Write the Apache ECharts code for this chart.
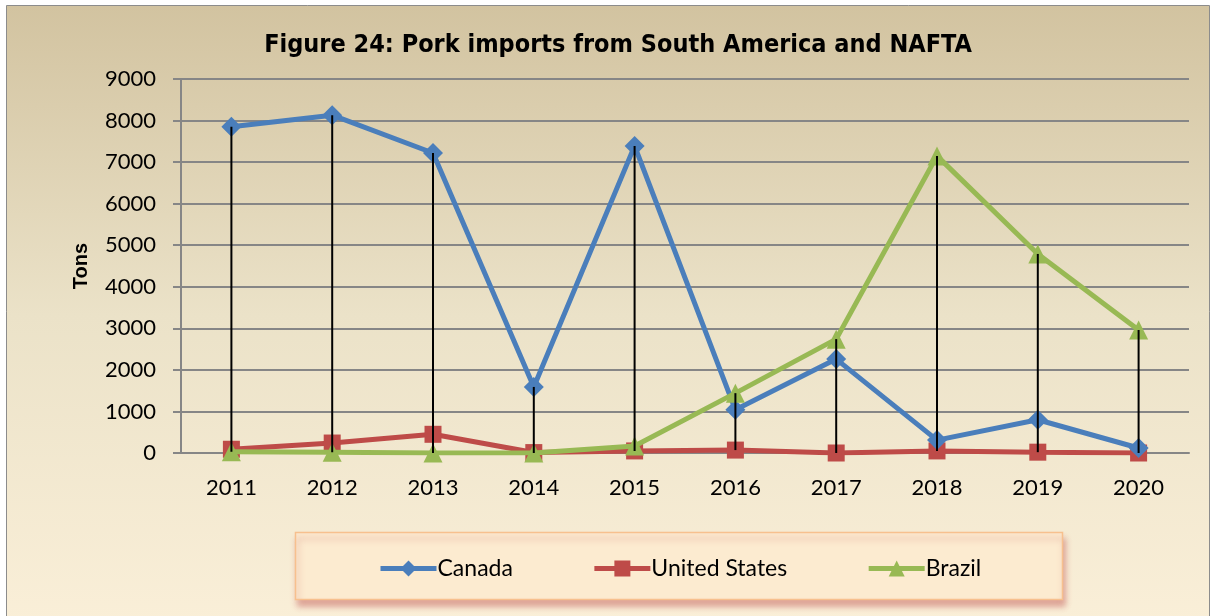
<!DOCTYPE html>
<html>
<head>
<meta charset="utf-8">
<script src="https://cdn.jsdelivr.net/npm/echarts@6/dist/echarts.min.js"></script>
<style>
  html, body { margin: 0; padding: 0; background: #fff; }
  #chart { width: 1212px; height: 616px; }
</style>
</head>
<body>
<div id="chart"></div>
<script>
// data
var years = ['2011', '2012', '2013', '2014', '2015', '2016', '2017', '2018', '2019', '2020']
var canada = [7850, 8130, 7220, 1590, 7390, 1040, 2260, 310, 800, 120]
var unitedStates = [90, 240, 450, 10, 50, 70, 0, 50, 20, 0]
var brazil = [30, 20, 0, 0, 170, 1440, 2740, 7150, 4790, 2960]
var yTicks = { min: 0, max: 9000, interval: 1000 }

// high-low lines: from the highest to the lowest series value in each year
var hiLo = years.map(function (y, i) {
  var vals = [canada[i], unitedStates[i], brazil[i]]
  return [y, Math.max.apply(null, vals), Math.min.apply(null, vals)]
})

var myChart = echarts.init(document.getElementById('chart'))
myChart.setOption({
  animation: false,
  graphic: [
    {
      type: 'rect',
      z: -10,
      shape: { x: 6.5, y: 5.5, width: 1203, height: 620 },
      style: {
        fill: new echarts.graphic.LinearGradient(0, 0, 0, 1, [
          { offset: 0, color: '#d2c3a0' },
          { offset: 0.5, color: '#ebe2c8' },
          { offset: 1, color: '#faefd8' }
        ]),
        stroke: '#8c8c8c',
        lineWidth: 1
      }
    },
    {
      type: 'rect',
      z: -5,
      shape: { x: 295.5, y: 532.5, width: 767, height: 67 },
      style: {
        fill: '#fcebd0',
        stroke: '#f7c08e',
        lineWidth: 1.5,
        shadowColor: 'rgba(190, 80, 77, 0.45)',
        shadowBlur: 6,
        shadowOffsetX: 2,
        shadowOffsetY: 6
      }
    }
  ],
  title: {
    text: 'Figure 24: Pork imports from South America and NAFTA',
    left: 613,
    top: 28,
    textAlign: 'center',
    textStyle: {
      fontFamily: '"DejaVu Sans Condensed", "Liberation Sans", sans-serif',
      fontWeight: 'bold',
      fontSize: 25,
      color: '#000'
    }
  },
  grid: {
    left: 181,
    right: 23,
    top: 79,
    bottom: 163
  },
  legend: {
    data: ['Canada', 'United States', 'Brazil'],
    left: 373,
    top: 552,
    itemWidth: 56,
    itemHeight: 20,
    itemGap: 79,
    lineStyle: { width: 5 },
    textStyle: {
      fontFamily: 'Lato',
      fontSize: 23,
      color: '#000',
      padding: [0, 0, 0, -4]
    }
  },
  xAxis: {
    type: 'category',
    data: years,
    axisLine: { lineStyle: { color: '#868686', width: 2 } },
    axisTick: { show: false },
    axisLabel: {
      fontFamily: 'Lato',
      fontSize: 22,
      color: '#000',
      margin: 24
    }
  },
  yAxis: {
    type: 'value',
    min: yTicks.min,
    max: yTicks.max,
    interval: yTicks.interval,
    name: 'Tons',
    nameLocation: 'middle',
    nameGap: 90,
    nameTextStyle: {
      fontFamily: 'Liberation Sans',
      fontWeight: 'bold',
      fontSize: 20,
      color: '#000'
    },
    axisLine: { show: true, lineStyle: { color: '#868686', width: 2 } },
    axisTick: { show: true, length: 8, lineStyle: { color: '#868686', width: 2 } },
    splitLine: { lineStyle: { color: '#868686', width: 2 } },
    axisLabel: {
      fontFamily: 'Lato',
      fontSize: 22,
      color: '#000',
      margin: 25,
      formatter: function (v) { return String(v) }
    }
  },
  series: [
    {
      name: 'Canada',
      type: 'line',
      data: canada,
      symbol: 'diamond',
      symbolSize: 20,
      color: '#4a7ebb',
      lineStyle: { width: 5 },
      z: 4
    },
    {
      name: 'United States',
      type: 'line',
      data: unitedStates,
      symbol: 'rect',
      symbolSize: 17,
      color: '#be4b48',
      lineStyle: { width: 5 },
      z: 3
    },
    {
      name: 'Brazil',
      type: 'line',
      data: brazil,
      symbol: 'triangle',
      symbolSize: 19,
      color: '#98b954',
      lineStyle: { width: 5 },
      z: 5
    },
    {
      name: 'hilo',
      type: 'custom',
      silent: true,
      z: 10,
      data: hiLo,
      encode: { x: 0, y: [1, 2] },
      renderItem: function (params, api) {
        var hi = api.coord([api.value(0), api.value(1)])
        var lo = api.coord([api.value(0), api.value(2)])
        return {
          type: 'line',
          shape: { x1: hi[0], y1: hi[1], x2: lo[0], y2: lo[1] },
          style: { stroke: '#000', lineWidth: 2 }
        }
      }
    }
  ]
})
</script>
</body>
</html>
